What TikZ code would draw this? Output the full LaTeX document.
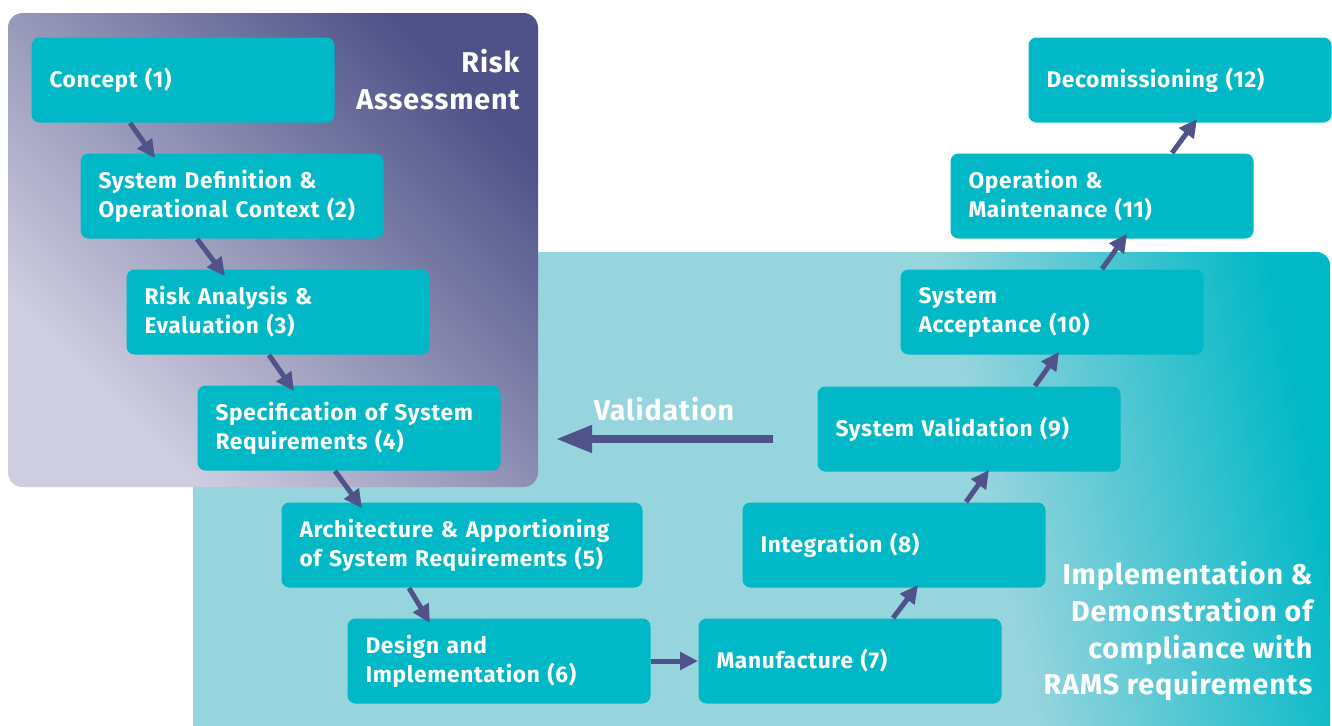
\documentclass[tikz,border=0pt]{standalone}
\usepackage{fontspec}
\setmainfont{Fira Sans}[LetterSpace=3]
\usetikzlibrary{arrows.meta}

\definecolor{boxteal}{RGB}{0,184,198}
\definecolor{navyarrow}{RGB}{79,83,137}
\definecolor{panellight}{RGB}{150,212,222}
\definecolor{risklight}{RGB}{207,205,224}
\definecolor{riskdark}{RGB}{78,82,136}

\pgfdeclarehorizontalshading{riskfade}{100bp}{color(0bp)=(risklight); color(28bp)=(risklight); color(75bp)=(riskdark); color(100bp)=(riskdark)}
\pgfdeclarehorizontalshading{implfade}{100bp}{color(0bp)=(panellight); color(61bp)=(panellight); color(77bp)=(boxteal); color(100bp)=(boxteal)}

\tikzset{every picture/.style={line width=0.75pt}}
\tikzset{
  stepbox/.style={fill=boxteal, rounded corners=6pt, text=white, align=left, anchor=north west,
    inner xsep=13.5pt, text width=200.25pt, minimum height=63.75pt,
    font=\fontsize{17}{21.75}\selectfont\bfseries},
  widebox/.style={stepbox, text width=243.75pt},
  flow/.style={draw=navyarrow, line width=3.75pt, -{Triangle[length=13.5pt,width=13pt]}},
  bigflow/.style={draw=navyarrow, line width=5.6pt, -{Triangle[length=27pt,width=19.5pt]}},
  heading/.style={text=white, inner sep=0pt, align=right, anchor=north east,
    font=\fontsize{21.5}{27.5}\selectfont\bfseries}
}

\begin{document}
\begin{tikzpicture}[x=0.75pt,y=0.75pt,yscale=-1,xscale=1]
\useasboundingbox (0,0) rectangle (1332,725);

%Shape: Implementation panel
\shade [shading=implfade, shading angle=12, rounded corners=10pt] (193,760) -- (193,252) -- (1330,252) -- (1330,760) -- cycle ;
%Shape: Risk Assessment panel
\shade [shading=riskfade, shading angle=45, rounded corners=11pt] (8,13) rectangle (538,487) ;

% Step boxes
\node [stepbox] (c1) at (31,37) {Concept (1)};
\node [stepbox] (c2) at (80,153) {System Definition \&\\Operational Context (2)};
\node [stepbox] (c3) at (126,269) {Risk Analysis \&\\Evaluation (3)};
\node [stepbox] (c4) at (197,385) {Specification of System\\Requirements (4)};
\node [widebox] (c5) at (281,502) {Architecture \& Apportioning\\of System Requirements (5)};
\node [stepbox] (c6) at (347,618) {Design and\\Implementation (6)};
\node [stepbox] (c7) at (698,618) {Manufacture (7)};
\node [stepbox] (c8) at (742,502) {Integration (8)};
\node [stepbox] (c9) at (817,386) {System Validation (9)};
\node [stepbox] (c10) at (900,269) {System\\Acceptance (10)};
\node [stepbox] (c11) at (950,153) {Operation \&\\Maintenance (11)};
\node [stepbox] (c12) at (1028,37) {Decomissioning (12)};

% Arrows between steps
\draw [flow] ([shift={(99,0)}]c1.south west) -- ([shift={(75,5)}]c2.north west) ;
\draw [flow] ([shift={(117,0)}]c2.south west) -- ([shift={(99,7)}]c3.north west) ;
\draw [flow] ([shift={(143,0)}]c3.south west) -- ([shift={(97,6)}]c4.north west) ;
\draw [flow] ([shift={(138,0)}]c4.south west) -- ([shift={(81,6)}]c5.north west) ;
\draw [flow] ([shift={(128,0)}]c5.south west) -- ([shift={(83,5)}]c6.north west) ;
\draw [flow] (c6.east) -- (c7.west) ;
\draw [flow] ([shift={(195,0)}]c7.north west) -- ([shift={(176,-3)}]c8.south west) ;
\draw [flow] ([shift={(224,0)}]c8.north west) -- ([shift={(172,-2)}]c9.south west) ;
\draw [flow] ([shift={(218,0)}]c9.north west) -- ([shift={(159,-3)}]c10.south west) ;
\draw [flow] ([shift={(202,0)}]c10.north west) -- ([shift={(177,-5)}]c11.south west) ;
\draw [flow] ([shift={(222,0)}]c11.north west) -- ([shift={(169,-4)}]c12.south west) ;

% Validation arrow
\coordinate (vstart) at (773,439);
\coordinate (vend) at (556,439);
\draw [bigflow] (vstart) -- (vend) ;
\node [text=white, inner sep=0pt, font=\fontsize{21.5}{24}\selectfont\bfseries] (vlab) at (664,409) {Validation};

% Text Node
\node [heading] (risk) at (520,49) {Risk\\Assessment};
% Text Node
\node [heading] (impl) at (1313,561) {Implementation \&\\Demonstration of\\compliance with\\RAMS requirements};

\end{tikzpicture}
\end{document}
